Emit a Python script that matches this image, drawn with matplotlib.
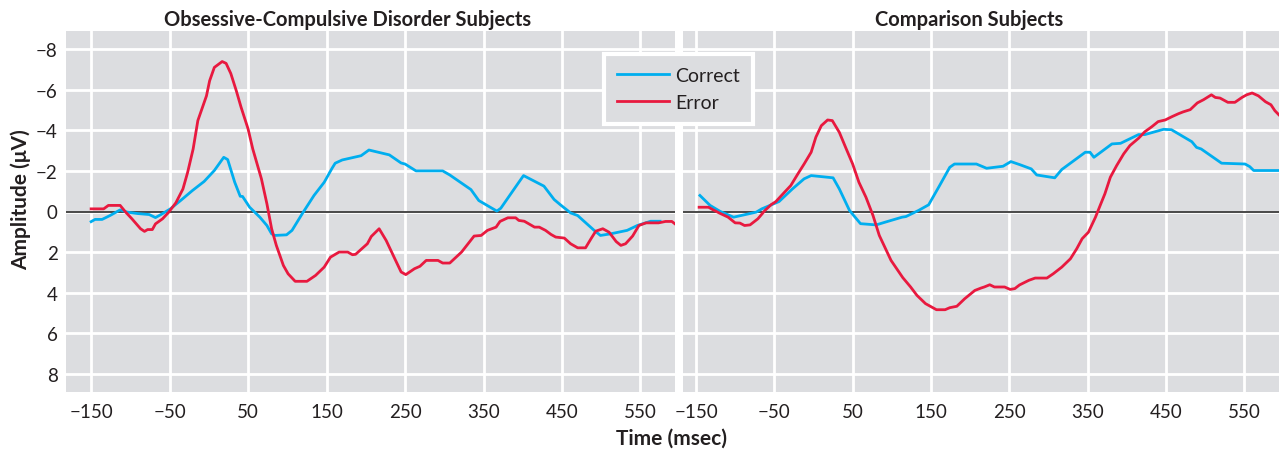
import matplotlib
matplotlib.use('Agg')
import matplotlib.pyplot as plt
from matplotlib.lines import Line2D

plt.rcParams['font.family'] = ['Lato', 'DejaVu Sans']

# ---------------- data ----------------
tick_vals = [-150, -50, 50, 150, 250, 350, 450, 550]
tick_labels = ['\u2212150', '\u221250', '50', '150', '250', '350', '450', '550']
ytick_vals = [-8, -6, -4, -2, 0, 2, 4, 6, 8]
ytick_labels = ['\u22128', '\u22126', '\u22124', '\u22122', '0', '2', '4', '6', '8']

ocd_correct_t = [-150, -145, -136, -126, -113, -104, -91, -76, -68, -61,
                 -49, -36, -21, -6, 7, 19, 24, 33, 40, 43,
                 52, 65, 74, 80, 84, 99, 106, 119, 134, 147,
                 157, 161, 170, 194, 204, 230, 245, 250, 264, 298,
                 307, 334, 344, 367, 372, 395, 401, 427, 440, 448,
                 461, 470, 491, 499, 512, 533, 546, 563, 575]
ocd_correct_v = [0.5, 0.39, 0.39, 0.2, -0.08, 0.03, 0.1, 0.15, 0.3, 0.15,
                 -0.13, -0.54, -1.03, -1.48, -2.02, -2.67, -2.56, -1.44, -0.75, -0.74,
                 -0.21, 0.28, 0.69, 1.1, 1.18, 1.15, 0.93, 0.11, -0.79, -1.44,
                 -2.13, -2.38, -2.54, -2.75, -3.03, -2.79, -2.39, -2.34, -2.0, -2.0,
                 -1.8, -1.08, -0.54, -0.02, -0.16, -1.44, -1.77, -1.25, -0.59, -0.33,
                 0.07, 0.2, 0.93, 1.18, 1.1, 0.93, 0.69, 0.48, 0.48]

ocd_error_t = [-150, -134, -128, -113, -106, -98, -87, -82, -78, -72,
               -68, -59, -51, -42, -33, -27, -20, -14, -3, 1,
               7, 17, 22, 28, 35, 41, 50, 56, 67, 74,
               80, 86, 95, 101, 110, 125, 136, 147, 155, 166,
               177, 183, 187, 202, 207, 217, 226, 237, 245, 251,
               262, 269, 277, 292, 298, 307, 322, 338, 347, 355,
               366, 371, 381, 391, 395, 402, 415, 421, 429, 436,
               442, 453, 461, 470, 480, 487, 493, 502, 510, 519,
               525, 531, 540, 548, 557, 573, 582, 590, 595]
ocd_error_v = [-0.13, -0.13, -0.3, -0.3, 0.03, 0.36, 0.85, 0.98, 0.89, 0.89,
               0.61, 0.36, 0.03, -0.43, -1.11, -1.93, -3.08, -4.48, -5.7, -6.44,
               -7.1, -7.39, -7.3, -6.8, -5.95, -5.15, -4.07, -3.08, -1.61, -0.38,
               0.85, 1.67, 2.66, 3.07, 3.44, 3.44, 3.15, 2.74, 2.25, 2.0,
               2.0, 2.13, 2.11, 1.59, 1.23, 0.85, 1.43, 2.33, 2.98, 3.11,
               2.82, 2.7, 2.41, 2.41, 2.54, 2.54, 2.0, 1.21, 1.18, 0.93,
               0.77, 0.49, 0.31, 0.31, 0.44, 0.48, 0.77, 0.77, 0.93, 1.13,
               1.26, 1.31, 1.59, 1.79, 1.79, 1.34, 0.97, 0.85, 1.02, 1.48,
               1.67, 1.59, 1.21, 0.69, 0.56, 0.56, 0.49, 0.49, 0.64]

cmp_correct_t = [-145, -132, -119, -102, -73, -66, -44, -27, -12, -3,
                 25, 33, 46, 60, 80, 92, 113, 118, 134, 147,
                 161, 174, 180, 208, 221, 242, 252, 264, 278, 285,
                 308, 317, 347, 353, 358, 381, 392, 415, 423, 447,
                 457, 483, 489, 495, 521, 551, 557, 562, 594]
cmp_correct_v = [-0.79, -0.3, 0.0, 0.28, 0.03, -0.13, -0.49, -1.11, -1.61, -1.77,
                 -1.66, -1.11, -0.05, 0.6, 0.66, 0.52, 0.28, 0.25, -0.05, -0.33,
                 -1.28, -2.18, -2.34, -2.34, -2.13, -2.23, -2.46, -2.3, -2.1, -1.8,
                 -1.66, -2.07, -2.92, -2.92, -2.67, -3.33, -3.36, -3.79, -3.79, -4.05,
                 -4.03, -3.44, -3.16, -3.08, -2.38, -2.34, -2.21, -2.02, -2.02]

cmp_error_t = [-146, -134, -128, -120, -109, -100, -94, -88, -81, -71,
               -62, -54, -48, -37, -29, -20, -12, -3, 3, 10,
               18, 24, 33, 41, 50, 58, 67, 76, 84, 99,
               114, 124, 132, 143, 157, 168, 174, 183, 193, 206,
               214, 218, 225, 231, 244, 251, 257, 263, 275, 283,
               298, 306, 317, 328, 336, 343, 351, 360, 366, 372,
               379, 387, 396, 404, 415, 423, 432, 440, 449, 458,
               466, 472, 481, 490, 498, 508, 513, 519, 529, 538,
               547, 553, 560, 568, 577, 584, 589, 594]
cmp_error_v = [-0.21, -0.21, -0.08, 0.08, 0.28, 0.56, 0.57, 0.69, 0.66, 0.36,
               -0.05, -0.34, -0.49, -0.95, -1.28, -1.85, -2.34, -2.92, -3.66, -4.23,
               -4.51, -4.48, -3.9, -3.16, -2.34, -1.44, -0.7, 0.2, 1.18, 2.41,
               3.26, 3.72, 4.13, 4.54, 4.84, 4.84, 4.74, 4.67, 4.3, 3.89,
               3.77, 3.72, 3.61, 3.72, 3.72, 3.84, 3.8, 3.62, 3.39, 3.28,
               3.28, 3.07, 2.74, 2.33, 1.84, 1.34, 1.02, 0.28, -0.3, -0.87,
               -1.69, -2.26, -2.84, -3.25, -3.61, -3.93, -4.18, -4.43, -4.51, -4.68,
               -4.82, -4.91, -5.02, -5.35, -5.51, -5.75, -5.62, -5.59, -5.38, -5.38,
               -5.62, -5.75, -5.84, -5.7, -5.41, -5.26, -4.97, -4.77]

series_labels = ['Correct', 'Error']
panel_titles = ['Obsessive-Compulsive Disorder Subjects', 'Comparison Subjects']

# ---------------- style ----------------
BG = '#dcdde0'
BLUE = '#00aeef'
RED = '#e8193f'
TXT = '#231f20'
W, H = 1279, 452
LW = 2.0

fig = plt.figure(figsize=(W / 100, H / 100), dpi=100)
ax_bottom = 1 - 392.7 / H
ax_height = 360.4 / H
ax1 = fig.add_axes([66 / W, ax_bottom, 609 / W, ax_height])
ax2 = fig.add_axes([683 / W, ax_bottom, 596 / W, ax_height])

def style(ax, xlim, show_y):
    ax.set_facecolor(BG)
    for s in ax.spines.values():
        s.set_visible(False)
    ax.set_xlim(*xlim)
    ax.set_ylim(8.88, -8.88)
    ax.set_xticks(tick_vals)
    ax.set_xticklabels(tick_labels)
    ax.set_yticks(ytick_vals)
    if show_y:
        ax.set_yticklabels(ytick_labels)
    else:
        ax.set_yticklabels([])
    ax.tick_params(axis='both', length=0, labelsize=13.5, colors=TXT)
    ax.tick_params(axis='x', pad=8)
    ax.tick_params(axis='y', pad=6)
    ax.grid(True, color='white', linewidth=2)
    ax.set_axisbelow(True)
    ax.axhline(0, color='#3a3a3a', linewidth=1.3, zorder=2)

style(ax1, (-182, 594), True)
style(ax2, (-166.6, 594.3), False)

ax1.plot(ocd_correct_t, ocd_correct_v, color=BLUE, lw=LW, zorder=3)
ax1.plot(ocd_error_t, ocd_error_v, color=RED, lw=LW, zorder=3)
ax2.plot(cmp_correct_t, cmp_correct_v, color=BLUE, lw=LW, zorder=3)
ax2.plot(cmp_error_t, cmp_error_v, color=RED, lw=LW, zorder=3)

fig.text(348 / W, 1 - 20 / H, panel_titles[0], ha='center', va='center',
         fontsize=14.5, fontweight='bold', color=TXT)
fig.text(969 / W, 1 - 20 / H, panel_titles[1], ha='center', va='center',
         fontsize=14.5, fontweight='bold', color=TXT)
fig.text(672 / W, 1 - 439 / H, 'Time (msec)', ha='center', va='center',
         fontsize=15, fontweight='bold', color=TXT)
fig.text(21 / W, 1 - 200 / H, 'Amplitude (\u03bcV)', ha='center', va='center',
         rotation=90, fontsize=15, fontweight='bold', color=TXT)

handles = [Line2D([], [], color=BLUE, lw=LW), Line2D([], [], color=RED, lw=LW)]
leg = fig.legend(handles, series_labels, loc='upper left',
                 bbox_to_anchor=(604 / W, 1 - 55 / H), frameon=True,
                 facecolor=BG, edgecolor='white', framealpha=1, fancybox=False,
                 fontsize=14, handlelength=2.65, handletextpad=0.32,
                 borderpad=0.67, labelspacing=0.5, borderaxespad=0)
leg.get_frame().set_linewidth(3)
for t in leg.get_texts():
    t.set_color(TXT)

fig.savefig('out.png', dpi=100, facecolor='white')
